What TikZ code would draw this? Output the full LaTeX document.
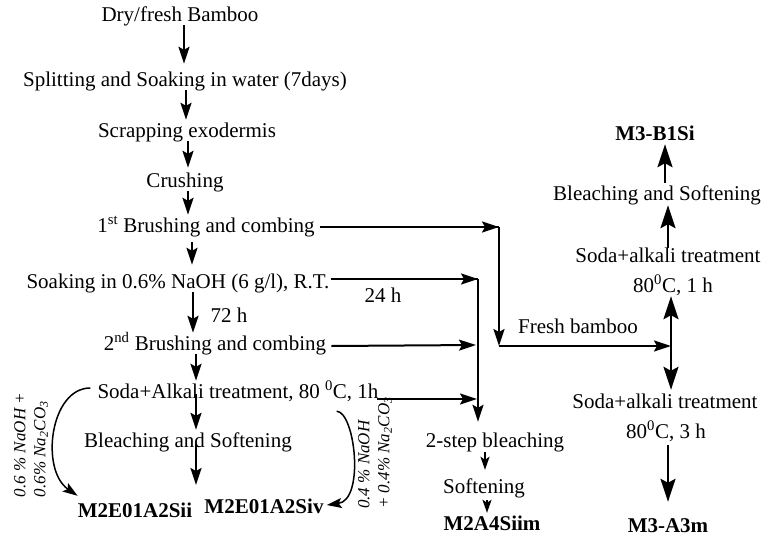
\documentclass[tikz,border=0pt]{standalone}
\usepackage{fontspec}
\setmainfont{Liberation Serif}
\usetikzlibrary{arrows.meta,calc}
\begin{document}
\begin{tikzpicture}[x=1pt,y=-1pt,
  lbl/.style={inner sep=0pt, text height=14pt, text depth=4pt, font=\fontsize{21}{24}\selectfont},
  res/.style={lbl, font=\fontsize{21}{24}\selectfont\bfseries},
  rot/.style={inner sep=0pt, rotate=90, align=left, font=\fontsize{17}{20}\selectfont\itshape},
  arr/.style={line width=2pt, -{Stealth[length=17pt,width=11pt,inset=3pt]}},
  big/.style={line width=2.2pt, -{Stealth[length=23pt,width=15pt,inset=4pt]}},
  sm/.style={line width=2pt, -{Stealth[length=13pt,width=9pt,inset=3pt]}},
  ln/.style={line width=2pt}]
\useasboundingbox (0,0) rectangle (766,544);

% left column
\node[lbl] (dry) at (180,16) {Dry/fresh Bamboo};
\node[lbl] (split) at (185,81) {Splitting and Soaking in water (7days)};
\node[lbl] (scrap) at (187,132) {Scrapping exodermis};
\node[lbl] (crush) at (185,182) {Crushing};
\node[lbl] (brush1) at (206,227) {1\textsuperscript{st} Brushing and combing};
\node[lbl] (soak) at (178,283) {Soaking in 0.6\% NaOH (6 g/l), R.T.};
\node[lbl] (h72) at (229,317) {72 h};
\node[lbl] (brush2) at (215,345) {2\textsuperscript{nd} Brushing and combing};
\node[lbl] (soda) at (238,393) {Soda+Alkali treatment, 80 \textsuperscript{0}C, 1h};
\node[lbl] (bleach) at (188,442) {Bleaching and Softening};
\node[res] (sii) at (135,512) {M2E01A2Sii};
\node[res] (siv) at (264,508) {M2E01A2Siv};
\node[rot] (labL) at (31,445) {0.6 \% NaOH +\\0.6\% Na\textsubscript{2}CO\textsubscript{3}};
\node[rot] (labR) at (375,453) {0.4 \% NaOH\\+ 0.4\% Na\textsubscript{2}CO\textsubscript{3}};

% middle column
\node[lbl] (h24) at (383,297) {24 h};
\node[lbl] (twostep) at (495,442) {2-step bleaching};
\node[lbl] (soft) at (484,488) {Softening};
\node[res] (siim) at (492,525) {M2A4Siim};

% right column
\node[res] (b1si) at (655,135) {M3-B1Si};
\node[lbl] (bleachR) at (657,195) {Bleaching and Softening};
\node[lbl] (sodaR1) at (668,257) {Soda+alkali treatment};
\node[lbl] (tempR1) at (673,287) {80\textsuperscript{0}C, 1 h};
\node[lbl] (fresh) at (578,328) {Fresh bamboo};
\node[lbl] (sodaR2) at (665,403) {Soda+alkali treatment};
\node[lbl] (tempR2) at (666,433) {80\textsuperscript{0}C, 3 h};
\node[res] (a3m) at (668,527) {M3-A3m};

% junctions
\coordinate (j1) at (499,227);
\coordinate (j2) at (499,346);
\coordinate (jV) at (478,279);
\coordinate (jR) at (671,346);
\coordinate (gap) at (196,485);

% vertical arrows, left column
\draw[arr] ([xshift=4pt]dry.south) -- ([xshift=-1pt,yshift=8pt]split.north);
\draw[arr] ([xshift=1pt]split.south) -- ([xshift=-1pt,yshift=3pt]scrap.north);
\draw[arr] ([xshift=1pt]scrap.south) -- ([xshift=3pt,yshift=5pt]crush.north);
\draw[arr] ([xshift=3pt]crush.south) -- ([xshift=-18pt,yshift=3pt]brush1.north);
\draw[arr] ([xshift=-14pt,yshift=-6pt]brush1.south) -- ([xshift=14pt,yshift=9pt]soak.north);
\draw[arr] ([xshift=15pt]soak.south) -- ([xshift=-22pt,yshift=3pt]brush2.north);
\draw[arr] ([xshift=-19pt]brush2.south) -- ([xshift=-42pt,yshift=3pt]soda.north);
\draw[arr] ([xshift=-42pt,yshift=-1pt]soda.center) -- ([xshift=8pt,yshift=3pt]bleach.north);
\draw[arr] ([xshift=8pt,yshift=-2pt]bleach.center) -- (gap);

% curved arrows
\draw[line width=1.5pt, -{Stealth[length=15pt,width=10pt,inset=3pt]}]
  ([xshift=-7pt,yshift=5pt]soda.west) .. controls (50,388) and (40,470) .. ([yshift=7pt]sii.north west);
\draw[line width=1.5pt, -{Stealth[length=15pt,width=10pt,inset=3pt]}]
  ([xshift=-42pt,yshift=-9pt]soda.south east) .. controls (355,412) and (365,500) .. ([xshift=3pt,yshift=3pt]siv.east);

% horizontal feeds to the middle
\draw[ln] ([xshift=5pt]brush1.east) -- (j1);
\draw[arr] ([xshift=150pt]brush1.east) -- (j1);
\draw[arr] (j1) -- (j2);
\draw[arr] (j2) -- (jR);
\draw[ln] ([xshift=1pt,yshift=4pt]soak.east) -- (jV);
\draw[arr] ([xshift=100pt,yshift=4pt]soak.east) -- (jV);
\draw[arr] (jV) -- ([xshift=-17pt,yshift=11pt]twostep.north);
\draw[arr] ([xshift=5pt,yshift=-1pt]brush2.east) -- ([xshift=-2pt]brush2.east -| jV);
\draw[arr] ([xshift=-2pt,yshift=-6pt]soda.east) -- ([xshift=-1pt,yshift=-6pt]soda.east -| jV);

% middle column arrows
\draw[sm] ([xshift=-10pt,yshift=-1pt]twostep.south) -- ([xshift=1pt,yshift=9pt]soft.north);
\draw[sm] ([xshift=3pt,yshift=-3pt]soft.south) -- ([xshift=-5pt,yshift=3pt]siim.north);

% right column arrows
\draw[big] (jR) -- ([xshift=-2pt]tempR1.south);
\draw[big] (jR) -- ([xshift=6pt,yshift=4pt]sodaR2.north);
\draw[big] (sodaR1.north) -- ([xshift=11pt,yshift=-1pt]bleachR.south);
\draw[big] ([xshift=8pt,yshift=3pt]bleachR.north) -- ([xshift=10pt]b1si.south);
\draw[big] ([xshift=2pt,yshift=-3pt]tempR2.south) -- ([yshift=16pt]a3m.north);
\end{tikzpicture}
\end{document}
